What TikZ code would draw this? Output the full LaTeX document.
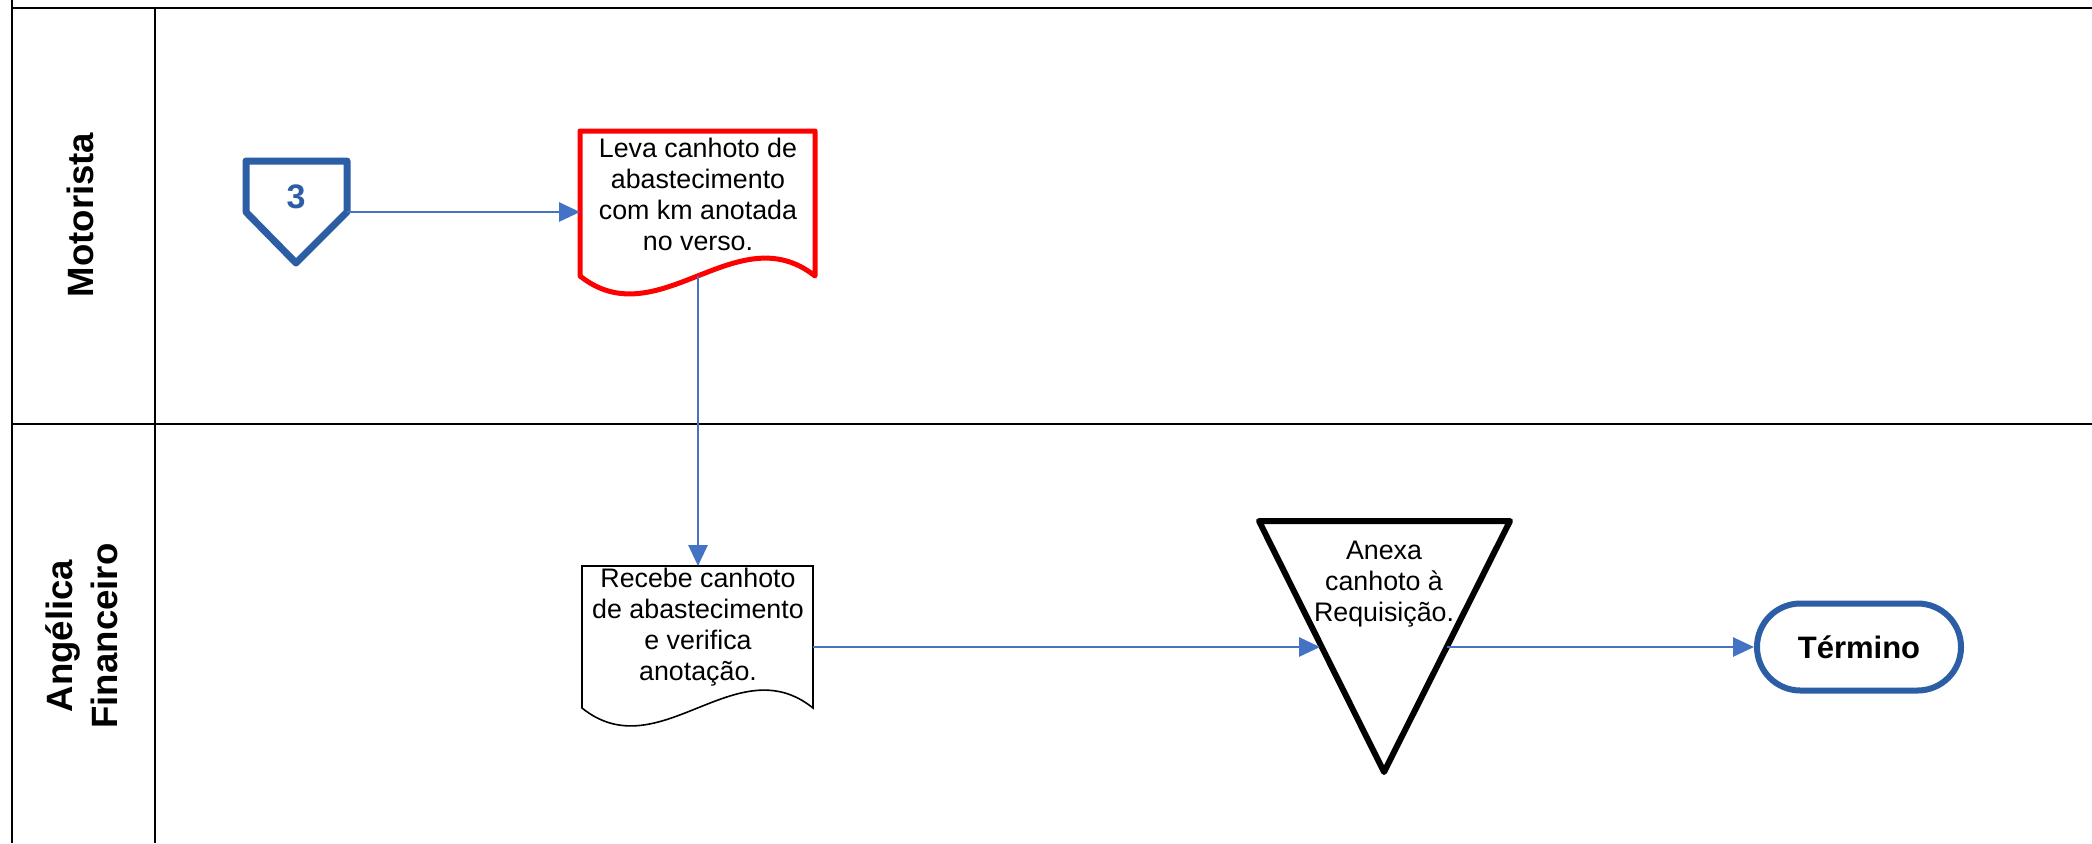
\documentclass[tikz,border=0pt]{standalone}
\usepackage{fontspec}
\setmainfont{Liberation Sans}
\usetikzlibrary{arrows.meta}
\definecolor{lineblue}{RGB}{68,114,196}
\definecolor{darkblue}{RGB}{44,94,166}
\begin{document}
\begin{tikzpicture}[x=0.5pt,y=-0.5pt,
  lane/.style={line width=0.9pt,black},
  flow/.style={lineblue,line width=1.4pt,-{Triangle[length=10.5pt,width=9.5pt]}},
  body/.style={font=\fontsize{13.4}{15.5}\selectfont,align=center,inner sep=0pt},
  lanelabel/.style={font=\fontsize{18.3}{22.5}\selectfont\bfseries,align=center,rotate=90,inner sep=0pt},
]
\useasboundingbox (0,0) rectangle (2092,843);
\fill[white] (0,0) rectangle (2092,843);
% swimlane grid
\draw[lane] (12,0) -- (12,843);
\draw[lane] (12,8) -- (2092,8);
\draw[lane] (155,8) -- (155,843);
\draw[lane] (12,424) -- (2092,424);
\node[lanelabel] (l1) at (80,215) {Motorista};
\node[lanelabel] (l2) at (82,636) {Angélica\\Financeiro};
% off-page connector 3
\draw[darkblue,line width=3.5pt,line join=round] (246,161) -- (347,161) -- (347,212) -- (296,263) -- (246,212) -- cycle;
\node[font=\fontsize{17}{17}\selectfont\bfseries,text=darkblue,inner sep=0pt] (c3) at (296,197) {3};
\coordinate (c3e) at (347,212);
% document 1 (red)
\draw[red,line width=2.5pt,line join=round] (580,131) -- (815,131) -- (815,276) .. controls (737,214) and (658,338) .. (580,276) -- cycle;
\node[body] (doc1) at (698,194) {Leva canhoto de\\abastecimento\\com km anotada\\no verso.};
\coordinate (d1w) at (580,212);
\coordinate (d1s) at (698,276);
% document 2
\draw[black,line width=0.8pt] (582,566) -- (813,566) -- (813,708) .. controls (736,646) and (659,770) .. (582,708) -- cycle;
\node[body] (doc2) at (698,627) {Recebe canhoto\\de abastecimento\\e verifica\\anotação.};
\coordinate (d2n) at (698,566);
\coordinate (d2e) at (813,647);
% triangle (inverted)
\draw[black,line width=3pt,line join=round] (1259,521) -- (1510,521) -- (1384,772) -- cycle;
\node[body] (tri) at (1384,584) {Anexa\\canhoto à\\Requisição.};
\coordinate (tril) at (1320,647);
\coordinate (trir) at (1447,647);
% terminator
\node[draw=darkblue,line width=3pt,rounded corners=21.7pt,minimum width=102pt,minimum height=43.5pt,inner sep=0pt,font=\fontsize{15.5}{15.5}\selectfont\bfseries] (term) at (1859,647) {Término};
% connectors
\draw[flow] (c3e) -- (d1w);
\draw[flow] (d1s) -- (d2n);
\draw[flow] (d2e) -- (tril);
\draw[flow] (trir) -- (term.west);
\end{tikzpicture}
\end{document}
